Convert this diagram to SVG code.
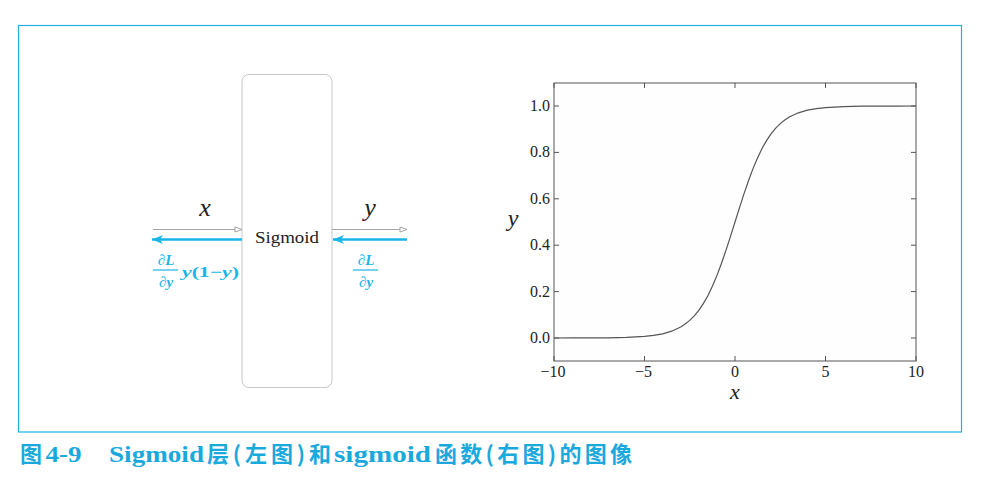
<svg xmlns="http://www.w3.org/2000/svg" width="984" height="480" viewBox="0 0 984 480">
<style>
.frame{fill:none;stroke:#1fb2e3;stroke-width:1.2}
.box{fill:#fff;stroke:#c8c8c8;stroke-width:1}
.gray{stroke:#a3a3a3;stroke-width:1.1;fill:none}
.blue{stroke:#19b5e8;stroke-width:2.4;fill:none}
.math{font-family:"Liberation Serif","DejaVu Serif",serif;font-style:italic;fill:#222}
.lbl{font-family:"Liberation Serif","DejaVu Serif",serif;fill:#222}
.bl{font-family:"Liberation Serif","DejaVu Serif",serif;font-weight:bold;fill:#19b5e8;font-size:15px}
.tick{font-family:"Liberation Serif","DejaVu Serif",serif;font-size:16px;fill:#222}
.axis{fill:#fefefe;stroke:#555;stroke-width:1}
.tk{stroke:#555;stroke-width:1}
.cap{font-weight:bold;fill:#1aa9dc;font-size:22px}
.cj{font-family:"Noto Sans CJK SC",sans-serif}
.ls{font-family:"Liberation Serif","DejaVu Serif",serif;font-size:23px}
</style>
<defs>
<marker id="ag" markerWidth="9" markerHeight="8" refX="8" refY="4" orient="auto" markerUnits="userSpaceOnUse">
<path d="M1,1.5 L8,4 L1,6.5 Z" fill="#fff" stroke="#a3a3a3" stroke-width="1"/>
</marker>
<marker id="ab" markerWidth="12" markerHeight="10" refX="11" refY="5" orient="auto" markerUnits="userSpaceOnUse">
<path d="M0,0.5 L11,5 L0,9.5 L3,5 Z" fill="#19b5e8"/>
</marker>
</defs>
<rect width="984" height="480" fill="#fff"/>
<rect class="frame" x="18.5" y="25.5" width="943" height="406.5"/>

<g id="sigmoid-node">
<rect class="box" x="242" y="74.5" width="90" height="313" rx="7"/>
<text class="lbl" x="287" y="243" font-size="17" text-anchor="middle" textLength="64" lengthAdjust="spacingAndGlyphs">Sigmoid</text>
</g>

<g id="connectors">
<line class="gray" x1="153" y1="229.5" x2="242" y2="229.5" marker-end="url(#ag)"/>
<line class="blue" x1="242" y1="239.5" x2="152" y2="239.5" marker-end="url(#ab)"/>
<line class="gray" x1="332" y1="229.5" x2="407" y2="229.5" marker-end="url(#ag)"/>
<line class="blue" x1="407" y1="239.5" x2="333" y2="239.5" marker-end="url(#ab)"/>
</g>

<g id="labels">
<text class="math" x="205" y="216" font-size="26" text-anchor="middle">x</text>
<text class="math" x="370" y="216" font-size="26" text-anchor="middle">y</text>
<text class="bl" x="166" y="265" text-anchor="middle">∂<tspan font-style="italic">L</tspan></text>
<line x1="153" y1="270" x2="178" y2="270" stroke="#19b5e8" stroke-width="1.2"/>
<text class="bl" x="166" y="287" text-anchor="middle">∂<tspan font-style="italic">y</tspan></text>
<text class="bl" x="182" y="277" textLength="57" lengthAdjust="spacingAndGlyphs"><tspan font-style="italic">y</tspan>(1−<tspan font-style="italic">y</tspan>)</text>
<text class="bl" x="366" y="265" text-anchor="middle">∂<tspan font-style="italic">L</tspan></text>
<line x1="353" y1="270" x2="378" y2="270" stroke="#19b5e8" stroke-width="1.2"/>
<text class="bl" x="366" y="287" text-anchor="middle">∂<tspan font-style="italic">y</tspan></text>
</g>

<g id="plot">
<rect class="axis" x="554" y="83" width="362" height="278"/>
<g class="tk">
<path d="M554,361v-5M644.5,361v-5M735,361v-5M825.5,361v-5M916,361v-5M554,83v5M644.5,83v5M735,83v5M825.5,83v5M916,83v5"/>
<path d="M554,338h5M554,291.6h5M554,245.2h5M554,198.8h5M554,152.4h5M554,106h5M916,338h-5M916,291.6h-5M916,245.2h-5M916,198.8h-5M916,152.4h-5M916,106h-5"/>
</g>
<polyline fill="none" stroke="#555" stroke-width="1.2" points="554,337.99 572.1,337.97 590.2,337.92 608.3,337.79 626.4,337.43 644.5,336.45 653.55,335.45 662.6,333.83 671.65,331.2 680.7,327 685.225,324.06 689.75,320.4 694.275,315.88 698.8,310.35 703.325,303.65 707.85,295.68 712.375,286.33 716.9,275.61 721.425,263.57 725.95,250.42 730.475,236.43 735,222 739.525,207.57 744.05,193.58 748.575,180.43 753.1,168.39 757.625,157.67 762.15,148.32 766.675,140.35 771.2,133.65 775.725,128.12 780.25,123.6 784.775,119.94 789.3,117 798.35,112.8 807.4,110.17 816.45,108.55 825.5,107.55 843.6,106.57 861.7,106.21 879.8,106.08 897.9,106.03 916,106.01"/>
<g class="tick" text-anchor="end">
<text x="550" y="343">0.0</text>
<text x="550" y="296.6">0.2</text>
<text x="550" y="250.2">0.4</text>
<text x="550" y="203.8">0.6</text>
<text x="550" y="157.4">0.8</text>
<text x="550" y="111">1.0</text>
</g>
<g class="tick" text-anchor="middle">
<text x="553" y="377">−10</text>
<text x="643.5" y="377">−5</text>
<text x="735" y="377">0</text>
<text x="825.5" y="377">5</text>
<text x="916" y="377">10</text>
</g>
<text class="math" x="735" y="399" font-size="22" text-anchor="middle">x</text>
<text class="math" x="513" y="226" font-size="24" text-anchor="middle">y</text>
</g>

<g id="caption">
<text class="cap cj" x="20" y="462">图</text>
<text class="cap ls" x="45.5" y="462" textLength="36" lengthAdjust="spacingAndGlyphs">4-9</text>
<text class="cap ls" x="109" y="462" textLength="95" lengthAdjust="spacingAndGlyphs">Sigmoid</text>
<text class="cap cj" x="207" y="462" textLength="124">层(左图)和</text>
<text class="cap ls" x="334" y="462" textLength="97" lengthAdjust="spacingAndGlyphs">sigmoid</text>
<text class="cap cj" x="435" y="462" textLength="197">函数(右图)的图像</text>
</g>
</svg>
